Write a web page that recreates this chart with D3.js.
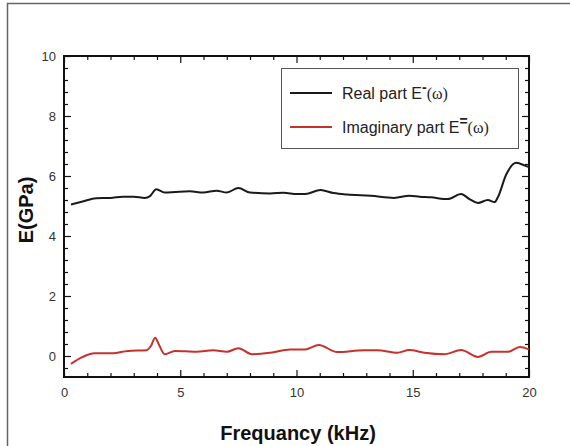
<!DOCTYPE html>
<html>
<head>
<meta charset="utf-8">
<script src="https://cdn.jsdelivr.net/npm/d3@7"></script>
<style>
  body { margin: 0; background: #fff; }
  svg { display: block; font-family: "Liberation Sans", Arial, sans-serif; }
</style>
</head>
<body>
<svg id="chart" width="570" height="446"></svg>
<script>
// data (frequency in kHz, modulus in GPa)
const realFreq = [0.3, 0.8, 1.38, 2.0, 2.53, 3.0, 3.47, 3.7, 3.97, 4.33, 4.8, 5.41, 5.99, 6.57, 7.0, 7.5, 8.0, 8.87, 9.45, 10.02, 10.38, 11.03, 11.6, 12.18, 13.19, 14.2, 14.85, 15.3, 15.78, 16.5, 17.08, 17.44, 17.8, 18.23, 18.52, 18.66, 19.02, 19.45, 19.88, 20];
const realVal  = [5.05, 5.15, 5.26, 5.27, 5.31, 5.31, 5.27, 5.33, 5.56, 5.45, 5.47, 5.49, 5.45, 5.51, 5.45, 5.6, 5.45, 5.42, 5.44, 5.4, 5.4, 5.53, 5.43, 5.38, 5.34, 5.27, 5.34, 5.31, 5.29, 5.23, 5.4, 5.23, 5.1, 5.2, 5.13, 5.29, 6.05, 6.44, 6.33, 6.3];

const imagFreq = [0.3, 0.81, 1.31, 2.1, 2.75, 3.54, 3.75, 3.92, 4.1, 4.33, 4.77, 5.7, 6.42, 7.0, 7.5, 8.08, 8.87, 9.73, 10.38, 10.96, 11.75, 12.9, 13.48, 14.34, 14.85, 15.5, 16.36, 17.08, 17.8, 18.38, 19.1, 19.6, 20];
const imagVal  = [-0.26, -0.03, 0.09, 0.09, 0.17, 0.19, 0.35, 0.61, 0.35, 0.06, 0.17, 0.14, 0.19, 0.14, 0.26, 0.06, 0.11, 0.22, 0.22, 0.37, 0.13, 0.19, 0.19, 0.11, 0.2, 0.11, 0.06, 0.2, -0.03, 0.14, 0.14, 0.3, 0.22];

const xMajor = [0, 5, 10, 15, 20];
const xMinor = [1, 2, 3, 4, 6, 7, 8, 9, 11, 12, 13, 14, 16, 17, 18, 19];
const yMajor = [0, 2, 4, 6, 8, 10];
const yMinor = [-0.4, 0.4, 0.8, 1.2, 1.6, 2.4, 2.8, 3.2, 3.6, 4.4, 4.8, 5.2, 5.6, 6.4, 6.8, 7.2, 7.6, 8.4, 8.8, 9.2, 9.6];

const svg = d3.select("#chart");
const plotLeft = 64, plotRight = 529, plotTop = 56, plotBottom = 377;

const x = d3.scaleLinear().domain([0, 20]).range([plotLeft, plotRight]);
const y = d3.scaleLinear().domain([-0.7, 10]).range([plotBottom, plotTop]);

// outer frame (only top/left edges inside the picture)
svg.append("rect")
    .attr("x", 7.5).attr("y", 3.5)
    .attr("width", 620).attr("height", 520)
    .attr("fill", "none").attr("stroke", "#666").attr("stroke-width", 1.5);

// axes, ticks point inward on all four sides
function styleAxis(g) {
  g.select(".domain").remove();
  g.selectAll(".tick line").attr("stroke", "#111").attr("stroke-width", 1.2);
  g.selectAll(".tick text").attr("fill", "#333").attr("font-size", 13);
}

svg.append("g").attr("transform", `translate(0,${plotBottom})`)
    .call(d3.axisBottom(x).tickValues(xMajor).tickSize(-7).tickPadding(11))
    .call(styleAxis);
svg.append("g").attr("transform", `translate(0,${plotBottom})`)
    .call(d3.axisBottom(x).tickValues(xMinor).tickSize(-4).tickFormat(""))
    .call(styleAxis);
svg.append("g").attr("transform", `translate(0,${plotTop})`)
    .call(d3.axisTop(x).tickValues(xMajor).tickSize(-7).tickFormat(""))
    .call(styleAxis);
svg.append("g").attr("transform", `translate(0,${plotTop})`)
    .call(d3.axisTop(x).tickValues(xMinor).tickSize(-4).tickFormat(""))
    .call(styleAxis);

svg.append("g").attr("transform", `translate(${plotLeft},0)`)
    .call(d3.axisLeft(y).tickValues(yMajor).tickSize(-7).tickPadding(8))
    .call(styleAxis);
svg.append("g").attr("transform", `translate(${plotLeft},0)`)
    .call(d3.axisLeft(y).tickValues(yMinor).tickSize(-4).tickFormat(""))
    .call(styleAxis);
svg.append("g").attr("transform", `translate(${plotRight},0)`)
    .call(d3.axisRight(y).tickValues(yMajor).tickSize(-7).tickFormat(""))
    .call(styleAxis);
svg.append("g").attr("transform", `translate(${plotRight},0)`)
    .call(d3.axisRight(y).tickValues(yMinor).tickSize(-4).tickFormat(""))
    .call(styleAxis);

svg.append("rect")
    .attr("x", plotLeft).attr("y", plotTop)
    .attr("width", plotRight - plotLeft).attr("height", plotBottom - plotTop)
    .attr("fill", "none").attr("stroke", "#111").attr("stroke-width", 2);

// curves
const line = d3.line().curve(d3.curveMonotoneX);

svg.append("path")
    .attr("d", line(realFreq.map((f, i) => [x(f), y(realVal[i])])))
    .attr("fill", "none").attr("stroke", "#1a1a1a").attr("stroke-width", 2);

svg.append("path")
    .attr("d", line(imagFreq.map((f, i) => [x(f), y(imagVal[i])])))
    .attr("fill", "none").attr("stroke", "#c8312b").attr("stroke-width", 2);

// axis titles
svg.append("text")
    .attr("x", 298).attr("y", 440)
    .attr("text-anchor", "middle")
    .attr("font-size", 20).attr("font-weight", "bold").attr("fill", "#111")
    .text("Frequancy (kHz)");

svg.append("text")
    .attr("transform", "translate(33,210) rotate(-90)")
    .attr("text-anchor", "middle")
    .attr("font-size", 20).attr("font-weight", "bold").attr("fill", "#111")
    .text("E(GPa)");

// legend
const legend = svg.append("g");
legend.append("rect")
    .attr("x", 281.5).attr("y", 68.5)
    .attr("width", 237).attr("height", 80)
    .attr("fill", "#fff").attr("stroke", "#555").attr("stroke-width", 1);

const legendItems = [
  { label: "Real part E", sup: "-", color: "#1a1a1a", yPos: 93 },
  { label: "Imaginary part E", sup: "=", color: "#c8312b", yPos: 127 }
];

legendItems.forEach(d => {
  legend.append("line")
      .attr("x1", 290).attr("x2", 332)
      .attr("y1", d.yPos).attr("y2", d.yPos)
      .attr("stroke", d.color).attr("stroke-width", 2);
  const t = legend.append("text")
      .attr("x", 342).attr("y", d.yPos + 6)
      .attr("font-size", 16).attr("fill", "#222");
  t.append("tspan").text(d.label);
  t.append("tspan").attr("dy", -7).attr("font-size", 14).attr("font-weight", "bold").text(d.sup);
  t.append("tspan").attr("dy", 7).attr("font-family", "'Liberation Serif', 'Times New Roman', serif")
      .attr("font-size", 16).text("(ω)");
});
</script>
</body>
</html>
